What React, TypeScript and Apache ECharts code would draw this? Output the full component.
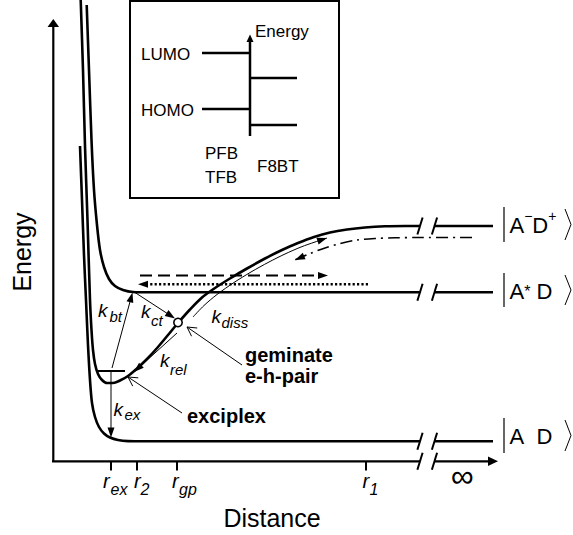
import React, { useEffect, useRef } from "react";
import * as echarts from "echarts";

// ---------- Potential energy curves: [Distance, Energy] in drawing units (energy axis points down) ----------
const groundState: number[][] = [
  [80, 146], [82, 200], [84, 255], [86, 300], [88, 345], [90, 380], [92, 403], [95, 417], [99, 427],
  [104, 433.5], [110, 437.5], [118, 440], [128, 441.1], [145, 441.3], [420, 441.3],
];
const chargeTransferState: number[][] = [
  [80.7, 0], [83, 70], [85, 146], [87.5, 220], [90, 300], [91.5, 330], [93, 350], [95, 364], [98, 374],
  [102, 380], [107, 383], [113, 383], [120, 380.5], [128, 376], [137, 368.5], [147, 359], [158, 347],
  [168, 335], [178, 323], [190, 309.5], [202, 297.5], [215, 288], [230, 278.5], [247, 268.5], [265, 258.5],
  [282, 250], [298, 243], [314, 237], [330, 232.5], [347, 229.5], [365, 227.5], [385, 226.3], [405, 226], [420, 226],
];
const excitedState: number[][] = [
  [86.7, 5], [89, 70], [91.5, 140], [94, 190], [97, 225], [100, 250], [104, 267], [109, 279], [115, 286],
  [123, 290], [133, 292], [150, 292.3], [420, 292.3],
];
const levelsAtInfinity: number[][] = [[434.5, 226, 493, 226], [434.5, 292.3, 493, 292.3], [434.5, 441.3, 493, 441.3]];
const exciplexLevel: number[][] = [[98, 371, 125, 371]];
const geminatePair: number[][] = [[178, 322.5]];

// ---------- Process arrows ----------
const dissociationPath: number[][] = [
  [193, 317], [204, 305.5], [217, 294.5], [234, 282.5], [251, 272], [269, 262], [285, 254], [301, 247], [315, 242], [327, 238],
];
const returnPath: number[][] = [
  [472, 237.5], [420, 237.5], [395, 237.8], [375, 238.5], [357, 240], [340, 243.5], [325, 248], [310, 253.5], [295, 260],
];
const rateArrows: number[][] = [
  [112, 368, 132.5, 292.5], // k_bt
  [135, 292.5, 175, 318.5], // k_ct
  [177, 333, 134, 372], // k_rel
  [111, 371, 111, 437.5], // k_ex
];
const dashedArrow: number[][] = [[140, 275.5, 328, 275.5]];
const dottedArrow: number[][] = [[368, 284.3, 138, 284.3]];
const pointers: number[][] = [[242, 365, 187, 327], [182, 413, 128, 377]];

// ---------- Axes ----------
const distanceAxis: number[][] = [[52, 461.3, 420, 461.3]];
const distanceAxisEnd: number[][] = [[434.5, 461.3, 498, 461.3]];
const energyAxis: number[][] = [[53.3, 461.3, 53.3, 19]];
const breakMarks: number[][] = [
  [420, 226], [434.5, 226], [420, 292.3], [434.5, 292.3], [420, 441.3], [434.5, 441.3], [420, 461.3], [434.5, 461.3],
];
const distanceTicks: number[] = [111, 137, 177, 366];
const tickNames: string[] = ["ex", "2", "gp", "1"];
const tickLabelX: number[] = [103, 134, 172, 362.5];
const tickSubX: number[] = [110.5, 140.5, 179, 369.5];

// ---------- Inset (energy levels) ----------
const insetBox: number[][] = [[130, 1, 339, 198]];
const insetAxis: number[][] = [[250, 136, 250, 34.5]];
const insetLevels: number[][] = [[202, 53, 250, 53], [202, 109, 250, 109], [250, 78, 297, 78], [250, 125, 297, 125]];

// ---------- State labels ----------
const stateSpans: number[][] = [[207, 242], [273, 307], [418, 453]];
const stateTexts: string[] = ["{n|A}{sup|−}{n|D}{sup|+}", "{n|A}{ast|*}{n| D}", "{n|A}{n|  D}"];

// ---------- Texts: [text, x, y, style] ----------
const texts: [string, number, number, string][] = [
  ["Energy", 22, 252, "titleV"],
  ["Distance", 272, 518, "title"],
  ["Energy", 255, 31, "inset"],
  ["LUMO", 141, 54, "inset"],
  ["HOMO", 141, 110.5, "inset"],
  ["PFB", 205, 153, "inset"],
  ["TFB", 205, 177, "inset"],
  ["F8BT", 257, 166, "inset"],
  ["k", 98, 310.4, "k"], ["bt", 109.5, 316.6, "kSub"],
  ["k", 141, 311.9, "k"], ["ct", 151, 320.2, "kSub"],
  ["k", 211.5, 316.4, "k"], ["diss", 221.5, 322.2, "kSub"],
  ["k", 160, 360.4, "k"], ["rel", 170, 369.2, "kSub"],
  ["k", 113.5, 409.4, "k"], ["ex", 124.5, 414.7, "kSub"],
  ["geminate", 245, 354.6, "bold"],
  ["e-h-pair", 245, 375.6, "bold"],
  ["exciplex", 187, 416, "bold"],
  ["∞", 462.5, 476, "inf"],
];

const FONT = "'Liberation Sans', Arial, Helvetica, sans-serif";
const TEXT_STYLES: Record<string, any> = {
  title: { fontSize: 25, align: "center" },
  titleV: { fontSize: 25, align: "center", rotation: Math.PI / 2 },
  inset: { fontSize: 17 },
  bold: { fontSize: 20, fontWeight: "bold" },
  k: { fontSize: 19, fontStyle: "italic" },
  kSub: { fontSize: 15, fontStyle: "italic" },
  r: { fontSize: 20, fontStyle: "italic" },
  rSub: { fontSize: 16, fontStyle: "italic" },
  inf: { fontSize: 32, align: "center" },
};

const BLACK = "#000";

function segmentShape(a: number[], b: number[], o: any) {
  const children: any[] = [];
  const dx = b[0] - a[0];
  const dy = b[1] - a[1];
  const L = Math.hypot(dx, dy) || 1;
  const ux = dx / L, uy = dy / L, nx = -uy, ny = ux;
  let end = b;
  if (o.head === "filled" || o.head === "only") {
    const bx = b[0] - ux * o.len, by = b[1] - uy * o.len;
    end = [b[0] - ux * (o.len - 1), b[1] - uy * (o.len - 1)];
    children.push({
      type: "polygon",
      shape: { points: [[b[0], b[1]], [bx + (nx * o.w) / 2, by + (ny * o.w) / 2], [bx - (nx * o.w) / 2, by - (ny * o.w) / 2]] },
      style: { fill: BLACK },
      z2: 2,
    });
  }
  if (o.head === "open") {
    const bx = b[0] - ux * o.len, by = b[1] - uy * o.len;
    children.push({
      type: "polyline",
      shape: { points: [[bx + (nx * o.w) / 2, by + (ny * o.w) / 2], [b[0], b[1]], [bx - (nx * o.w) / 2, by - (ny * o.w) / 2]] },
      style: { stroke: BLACK, lineWidth: o.width, fill: null },
    });
  }
  if (o.head !== "only") {
    children.unshift({
      type: "line",
      shape: { x1: a[0], y1: a[1], x2: end[0], y2: end[1] },
      style: { stroke: BLACK, lineWidth: o.width, lineDash: o.dash || null, lineCap: o.cap || "butt" },
    });
  }
  return { type: "group", children };
}

function segmentSeries(data: number[][], o: any) {
  return {
    type: "custom",
    coordinateSystem: "cartesian2d",
    silent: true,
    clip: false,
    z: o.z ?? 3,
    encode: { x: [0, 2], y: [1, 3] },
    data,
    renderItem: (_p: any, api: any) => {
      const a = api.coord([api.value(0), api.value(1)]);
      const b = api.coord([api.value(2), api.value(3)]);
      return segmentShape(a, b, o);
    },
  };
}

function curveSeries(data: number[][], width: number, type: any = "solid") {
  return {
    type: "line",
    data,
    smooth: 0.3,
    symbol: "none",
    showSymbol: false,
    silent: true,
    clip: false,
    z: 2,
    itemStyle: { color: BLACK },
    lineStyle: { color: BLACK, width, type, cap: "butt", join: "round" },
  };
}

const headOf = (path: number[][]) => {
  const p = path[path.length - 2];
  const q = path[path.length - 1];
  return [p[0], p[1], q[0], q[1]];
};

function buildOption() {
  const tickSegments = distanceTicks.map((x) => [x, 461.3, x, 470.5]);
  const stateBars = stateSpans.map(([t, b]) => [504, t, 504, b]);
  const allTexts: [string, number, number, string][] = [...texts];
  distanceTicks.forEach((_x, i) => {
    allTexts.push(["r", tickLabelX[i], 481, "r"]);
    allTexts.push([tickNames[i], tickSubX[i], 489.5, "rSub"]);
  });

  return {
    animation: false,
    grid: { left: 0, top: 0, right: 0, bottom: 0, containLabel: false },
    xAxis: { type: "value", min: 0, max: 573, show: false },
    yAxis: { type: "value", min: 0, max: 535, inverse: true, show: false },
    series: [
      curveSeries(groundState, 2.6),
      curveSeries(chargeTransferState, 2.6),
      curveSeries(excitedState, 2.6),
      curveSeries(dissociationPath, 1),
      curveSeries(returnPath, 1.6, [12, 5, 2, 5]),
      segmentSeries(levelsAtInfinity, { width: 2.6 }),
      segmentSeries(exciplexLevel, { width: 2 }),
      segmentSeries(rateArrows, { width: 1, head: "filled", len: 10, w: 7 }),
      segmentSeries([headOf(dissociationPath), headOf(returnPath)], { head: "only", len: 10, w: 7 }),
      segmentSeries(dashedArrow, { width: 2, head: "filled", len: 10, w: 7, dash: [12, 6] }),
      segmentSeries(dottedArrow, { width: 2.4, head: "filled", len: 10, w: 7, dash: [2.2, 2.2] }),
      segmentSeries(pointers, { width: 1, head: "open", len: 9, w: 10 }),
      segmentSeries(distanceAxis, { width: 2.2 }),
      segmentSeries(distanceAxisEnd, { width: 2.2, head: "filled", len: 10, w: 9.5 }),
      segmentSeries(energyAxis, { width: 2.2, head: "filled", len: 8, w: 11.5 }),
      segmentSeries(tickSegments, { width: 2 }),
      segmentSeries(insetAxis, { width: 2.5, head: "filled", len: 7.5, w: 7 }),
      segmentSeries(insetLevels, { width: 2.6 }),
      segmentSeries(stateBars, { width: 1.2 }),
      {
        type: "custom",
        coordinateSystem: "cartesian2d",
        silent: true,
        clip: false,
        z: 4,
        encode: { x: 0, y: 1 },
        data: breakMarks,
        renderItem: (_p: any, api: any) => {
          const c = api.coord([api.value(0), api.value(1)]);
          return {
            type: "line",
            shape: { x1: c[0] - 2.6, y1: c[1] + 8.5, x2: c[0] + 2.6, y2: c[1] - 8.5 },
            style: { stroke: BLACK, lineWidth: 2 },
          };
        },
      },
      {
        type: "custom",
        coordinateSystem: "cartesian2d",
        silent: true,
        clip: false,
        z: 4,
        encode: { x: [0, 2], y: [1, 3] },
        data: insetBox,
        renderItem: (_p: any, api: any) => {
          const a = api.coord([api.value(0), api.value(1)]);
          const b = api.coord([api.value(2), api.value(3)]);
          return {
            type: "rect",
            shape: { x: a[0], y: a[1], width: b[0] - a[0], height: b[1] - a[1] },
            style: { stroke: BLACK, lineWidth: 2, fill: null },
          };
        },
      },
      {
        type: "custom",
        coordinateSystem: "cartesian2d",
        silent: true,
        clip: false,
        z: 5,
        encode: { x: 0, y: 1 },
        data: geminatePair,
        renderItem: (_p: any, api: any) => {
          const c = api.coord([api.value(0), api.value(1)]);
          return {
            type: "circle",
            shape: { cx: c[0], cy: c[1], r: 4.2 },
            style: { stroke: BLACK, lineWidth: 1.6, fill: "#fff" },
          };
        },
      },
      {
        type: "custom",
        coordinateSystem: "cartesian2d",
        silent: true,
        clip: false,
        z: 4,
        encode: { x: [0, 2], y: [1, 3] },
        data: stateSpans.map(([t, b]) => [565, t, 571, b]),
        renderItem: (_p: any, api: any) => {
          const a = api.coord([api.value(0), api.value(1) + 2]);
          const b = api.coord([api.value(2), api.value(3) - 2]);
          return {
            type: "polyline",
            shape: { points: [[a[0], a[1]], [b[0], (a[1] + b[1]) / 2], [a[0], b[1]]] },
            style: { stroke: BLACK, lineWidth: 1, fill: null },
          };
        },
      },
      {
        type: "custom",
        coordinateSystem: "cartesian2d",
        silent: true,
        clip: false,
        z: 6,
        encode: { x: 0, y: 1 },
        data: stateSpans.map(([t, b]) => [509.5, (t + b) / 2 + 1]),
        renderItem: (params: any, api: any) => {
          const c = api.coord([api.value(0), api.value(1)]);
          return {
            type: "text",
            x: c[0],
            y: c[1],
            style: {
              text: stateTexts[params.dataIndex],
              fill: BLACK,
              fontFamily: FONT,
              fontSize: 22,
              align: "left",
              verticalAlign: "middle",
              rich: {
                n: { fontSize: 22, fontFamily: FONT, lineHeight: 34, verticalAlign: "middle", fill: BLACK },
                sup: { fontSize: 14, fontFamily: FONT, lineHeight: 12, verticalAlign: "top", fill: BLACK },
                ast: { fontSize: 16, fontFamily: FONT, lineHeight: 34, verticalAlign: "middle", fill: BLACK },
              },
            },
          };
        },
      },
      {
        type: "custom",
        coordinateSystem: "cartesian2d",
        silent: true,
        clip: false,
        z: 6,
        encode: { x: 0, y: 1 },
        data: allTexts.map((t) => [t[1], t[2]]),
        renderItem: (params: any, api: any) => {
          const t = allTexts[params.dataIndex];
          const st = TEXT_STYLES[t[3]];
          const c = api.coord([api.value(0), api.value(1)]);
          return {
            type: "text",
            x: c[0],
            y: c[1],
            rotation: st.rotation || 0,
            style: {
              text: t[0],
              fill: BLACK,
              fontFamily: FONT,
              fontSize: st.fontSize,
              fontWeight: st.fontWeight || "normal",
              fontStyle: st.fontStyle || "normal",
              align: st.align || "left",
              verticalAlign: "middle",
            },
          };
        },
      },
    ],
  };
}

export default function App() {
  const ref = useRef<HTMLDivElement>(null);
  useEffect(() => {
    if (!ref.current) return;
    const chart = echarts.init(ref.current, null, { renderer: "svg" });
    chart.setOption(buildOption() as any);
    return () => chart.dispose();
  }, []);
  return (
    <div
      ref={ref}
      style={{ position: "absolute", left: 0, top: 0, width: 573, height: 535, background: "#fff" }}
    />
  );
}
